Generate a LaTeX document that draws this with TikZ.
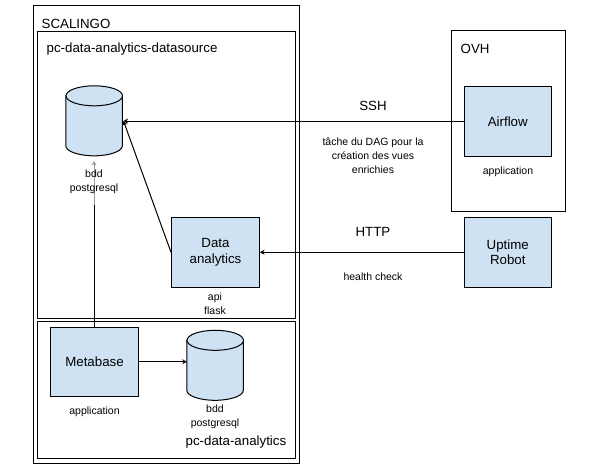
\documentclass[tikz,border=0pt]{standalone}
\usepackage{fontspec}
\setmainfont{Liberation Sans}
\usetikzlibrary{arrows.meta}
\definecolor{boxblue}{HTML}{CFE2F3}
\tikzset{
	frame/.style={draw=black, line width=1pt, inner sep=0pt},
	app/.style={draw=black, fill=boxblue, line width=1pt, font=\fontsize{13.3}{15.5}\selectfont, align=center, inner sep=0pt},
	bdd/.style={draw=black, fill=boxblue, line width=1pt},
	big/.style={font=\fontsize{13.3}{15}\selectfont, inner sep=0pt},
	small/.style={font=\fontsize{10.5}{14}\selectfont, align=center, inner sep=0pt},
	link/.style={-{Stealth[length=4.5pt,width=5pt]}, line width=1pt},
}
% cylinder: name, centre
\newcommand{\bddnode}[2]{
	\node[minimum width=56.5pt, minimum height=70pt, inner sep=0pt] (#1) at (#2) {};
	\draw[bdd] (#1.north west) ++(0,10) -- ++(0,50) arc[start angle=180, end angle=0, x radius=28.25, y radius=10] -- ++(0,-50) -- cycle;
	\draw[bdd] (#1.north) ++(0,10) ellipse[x radius=28.25, y radius=10];
}
\begin{document}
\begin{tikzpicture}[x=1pt, y=-1pt]
	\useasboundingbox[fill=white] (0,0) rectangle (602,471);

	% hosts
	\node[frame, minimum width=266pt, minimum height=458pt] (scalingo) at (166,234) {};
	\node[frame, minimum width=257.5pt, minimum height=287pt] (datasource) at (166.25,174.5) {};
	\node[frame, minimum width=257.5pt, minimum height=136.5pt] (analytics) at (166.25,389.75) {};
	\node[frame, minimum width=113.5pt, minimum height=180.5pt] (ovh) at (508.25,120.75) {};

	% boxes
	\node[app, minimum width=88pt, minimum height=70.5pt] (dataapi) at (215.5,252.25) {Data\\analytics};
	\node[app, minimum width=88pt, minimum height=69.5pt] (metabase) at (94.5,361.75) {Metabase};
	\node[app, minimum width=87.5pt, minimum height=70.5pt] (airflow) at (507.75,121.25) {Airflow};
	\node[app, minimum width=87.5pt, minimum height=69.5pt] (uptime) at (507.75,252.25) {Uptime\\Robot};
	\bddnode{bddsource}{94.25,121}
	\bddnode{bddanalytics}{215.25,365.5}

	% links
	\coordinate (bddin) at (123.5,121);
	\draw[link] (airflow.west |- bddin) -- (bddin);
	\draw[link] (dataapi.west) -- (bddin);
	\draw[link] (uptime.west) -- (dataapi.east);
	\draw[link] (metabase.east) -- (bddanalytics.west |- metabase.east);
	\coordinate (bddout) at (94,161);
	\draw[link] (metabase.north -| bddout) -- (bddout);

	% labels
	\node[small, fill=white, fill opacity=.6, text opacity=1, minimum width=56pt, minimum height=46pt] (bddlabel) at (94,182) {bdd\\postgresql};
	\node[small] (bddlabel2) at (215,416.5) {bdd\\postgresql};
	\node[small] (apilabel) at (215,303.5) {api\\flask};
	\node[small] (metalabel) at (94.5,412) {application};
	\node[small] (airlabel) at (508,172) {application};
	\node[small] (dag) at (373,156) {tâche du DAG pour la\\création des vues\\enrichies};
	\node[small] (health) at (373,277) {health check};
	\node[big] (ssh) at (373,106) {SSH};
	\node[big] (http) at (373,232) {HTTP};
	\node[big, anchor=west] (scalingolabel) at (41.5,24) {SCALINGO};
	\node[big, anchor=west] (sourcelabel) at (46.5,49) {pc-data-analytics-datasource};
	\node[big, anchor=west] (analyticslabel) at (185.5,442) {pc-data-analytics};
	\node[big, anchor=west] (ovhlabel) at (460.5,48.5) {OVH};
\end{tikzpicture}
\end{document}
